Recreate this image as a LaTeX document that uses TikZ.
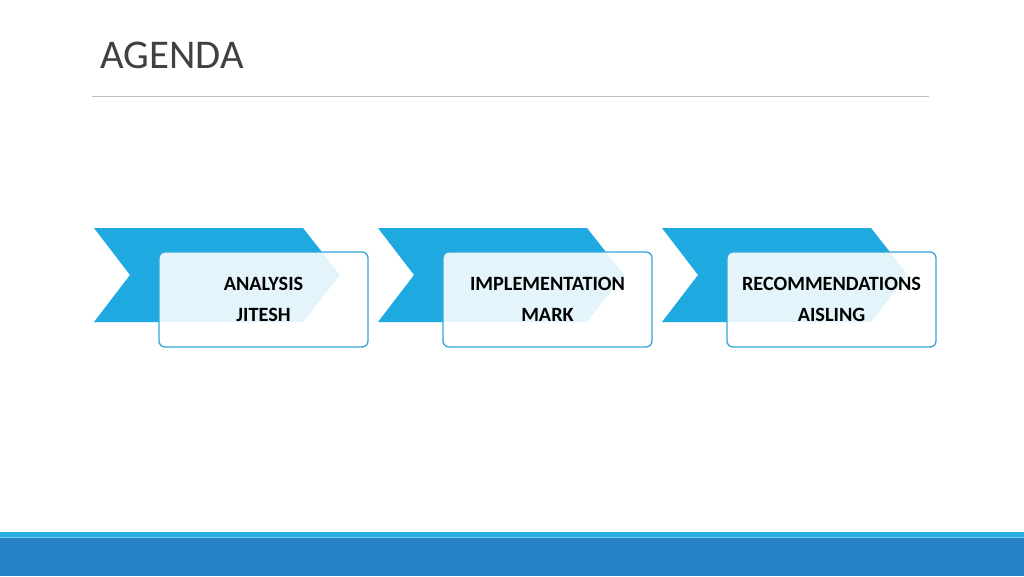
\documentclass[tikz,border=0pt]{standalone}
\usepackage{fontspec}
\setmainfont{Carlito}
\usetikzlibrary{positioning}

\definecolor{arrowblue}{RGB}{31,169,225}
\definecolor{boxline}{RGB}{52,166,218}
\definecolor{barlight}{RGB}{41,170,225}
\definecolor{bardark}{RGB}{38,131,198}
\definecolor{titlegray}{RGB}{64,64,64}
\definecolor{rulegray}{RGB}{191,191,191}

\tikzset{
  chevron/.style={fill=arrowblue},
  topicbox/.style={draw=boxline,line width=1pt,fill=white,fill opacity=0.88,
    text opacity=1,rounded corners=4.5pt,minimum width=156.75pt,
    minimum height=71.25pt,inner sep=0pt,outer sep=0pt,align=center,
    font=\fontsize{15.2}{23.25}\selectfont\bfseries}
}

\begin{document}
\begin{tikzpicture}[x=0.75pt,y=-0.75pt]
  \useasboundingbox (0,0) rectangle (1024,576);
  \fill[white] (0,0) rectangle (1024,576);
  % title and rule
  \node[anchor=base west,inner sep=0pt,text=titlegray,
    font=\fontsize{30.6}{30.6}\selectfont] (title) at (100,68) {AGENDA};
  \draw[rulegray,line width=0.75pt] (92,96.5) -- (929,96.5);
  % the three steps
  \foreach \topic/\who [count=\n from 0] in
    {ANALYSIS/JITESH,IMPLEMENTATION/MARK,RECOMMENDATIONS/AISLING}{
    \begin{scope}[xshift={\n*213pt}]
      \fill[chevron] (94,228) -- (303,228) -- (340,275) -- (303,322)
        -- (94,322) -- (130,275) -- cycle;
      \node[topicbox] (box\n) at (263.5,299.5) {\topic\\\who};
    \end{scope}
  }
  % footer bar
  \fill[barlight] (0,532) rectangle (1024,538);
  \fill[bardark] (0,538) rectangle (1024,576);
  \draw[barlight!60!white,line width=0.75pt] (0,537.5) -- (1024,537.5);
\end{tikzpicture}
\end{document}
